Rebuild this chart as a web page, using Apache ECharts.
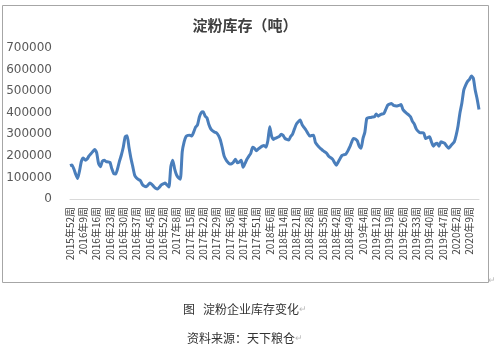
<!DOCTYPE html>
<html>
<head>
<meta charset="utf-8">
<script src="https://cdn.jsdelivr.net/npm/echarts@6/dist/echarts.min.js"></script>
<style>
html,body{margin:0;padding:0;background:#fff;}
#c{width:500px;height:358px;}
</style>
</head>
<body>
<div id="c"></div>
<script>
// Week tick labels (every 7th data point)
const tickLabels = [
  "2015年52周","2016年9周","2016年16周","2016年23周","2016年30周","2016年37周",
  "2016年45周","2016年52周","2017年8周","2017年15周","2017年22周","2017年29周",
  "2017年36周","2017年44周","2017年51周","2018年6周","2018年14周","2018年21周",
  "2018年28周","2018年35周","2018年42周","2018年49周","2019年4周","2019年12周",
  "2019年19周","2019年26周","2019年33周","2019年40周","2019年47周","2020年2周",
  "2020年9周"
];
// Weekly starch inventory (tons)
const stock = [
  155000,158000,140000,115000,95000,130000,175000,190000,180000,185000,
  200000,210000,220000,230000,215000,165000,150000,175000,180000,173000,
  172000,170000,140000,118000,116000,140000,175000,204000,240000,288000,
  293000,240000,190000,150000,110000,97000,90000,85000,68000,60000,
  57000,65000,74000,68000,58000,50000,46000,55000,65000,70000,
  74000,65000,56000,150000,180000,140000,112000,98000,92000,219000,
  265000,290000,295000,296000,292000,310000,333000,343000,380000,400000,
  404000,385000,376000,345000,325000,316000,310000,307000,295000,275000,
  240000,200000,182000,170000,162000,164000,172000,184000,168000,172000,
  180000,147000,165000,184000,198000,211000,240000,235000,224000,232000,
  239000,245000,248000,240000,270000,335000,290000,276000,282000,286000,
  290000,300000,295000,281000,276000,273000,290000,301000,325000,347000,
  358000,366000,345000,332000,320000,305000,292000,294000,296000,262000,
  250000,240000,232000,224000,218000,211000,198000,192000,185000,170000,
  157000,172000,188000,202000,205000,208000,222000,240000,262000,281000,
  278000,270000,245000,235000,280000,310000,374000,377000,378000,380000,
  381000,394000,384000,390000,394000,396000,415000,435000,440000,443000,
  435000,432000,431000,434000,438000,415000,405000,397000,390000,381000,
  360000,347000,325000,314000,307000,307000,305000,280000,285000,288000,
  265000,245000,255000,258000,245000,265000,262000,258000,245000,235000,
  245000,255000,265000,296000,340000,400000,445000,505000,528000,545000,
  555000,570000,560000,505000,465000,415000
];
const weekIdx = stock.map((_, i) => i);
const labelStep = 7;

const chart = echarts.init(document.getElementById('c'), null, {renderer: 'canvas'});
chart.setOption({
  animation: false,
  backgroundColor: '#ffffff',
  title: [
    {text: '淀粉库存（吨）', left: 240, top: 13, textAlign: 'center',
     textStyle: {fontSize: 15, fontWeight: 'bold', color: '#404040', fontFamily: 'Noto Sans CJK SC'}},
    {text: '图   淀粉企业库存变化{m|↵}', left: 240, top: 298, textAlign: 'center',
     textStyle: {fontSize: 12, fontWeight: 'normal', color: '#333', fontFamily: 'Noto Sans CJK SC',
       rich: {m: {fontSize: 9, color: '#bbb'}}}},
    {text: '资料来源：天下粮仓{m|↵}', left: 240, top: 327, textAlign: 'center',
     textStyle: {fontSize: 12, fontWeight: 'normal', color: '#333', fontFamily: 'Noto Sans CJK SC',
       rich: {m: {fontSize: 9, color: '#bbb'}}}}
  ],
  graphic: [
    {type: 'rect', shape: {x: 2.5, y: 5.5, width: 486, height: 277},
     style: {fill: 'none', stroke: '#a6a6a6', lineWidth: 1}, silent: true},
    {type: 'text', left: 488, top: 276, style: {text: '↵', fontSize: 9, fill: '#bbb'}}
  ],
  grid: {left: 70, top: 48, width: 409, height: 151, containLabel: false},
  xAxis: {
    type: 'category',
    data: weekIdx,
    boundaryGap: false,
    axisLine: {lineStyle: {color: '#d9d9d9', width: 1}},
    axisTick: {show: false},
    axisLabel: {
      interval: labelStep - 1,
      rotate: 90,
      margin: 8,
      fontSize: 10,
      color: '#404040',
      fontFamily: 'Noto Sans CJK SC',
      formatter: (v, i) => (i % labelStep === 0 ? tickLabels[i / labelStep] : '')
    },
    splitLine: {show: false}
  },
  yAxis: {
    type: 'value',
    min: 0, max: 700000, interval: 100000,
    axisLine: {show: false},
    axisTick: {show: false},
    splitLine: {show: false},
    axisLabel: {margin: 18, fontSize: 12, color: '#595959', fontFamily: 'DejaVu Sans',
      formatter: v => String(v)}
  },
  series: [{
    type: 'line',
    data: stock,
    showSymbol: false,
    smooth: 0.2,
    lineStyle: {color: '#4a7ebb', width: 3},
    itemStyle: {color: '#4a7ebb'}
  }]
});
</script>
</body>
</html>
